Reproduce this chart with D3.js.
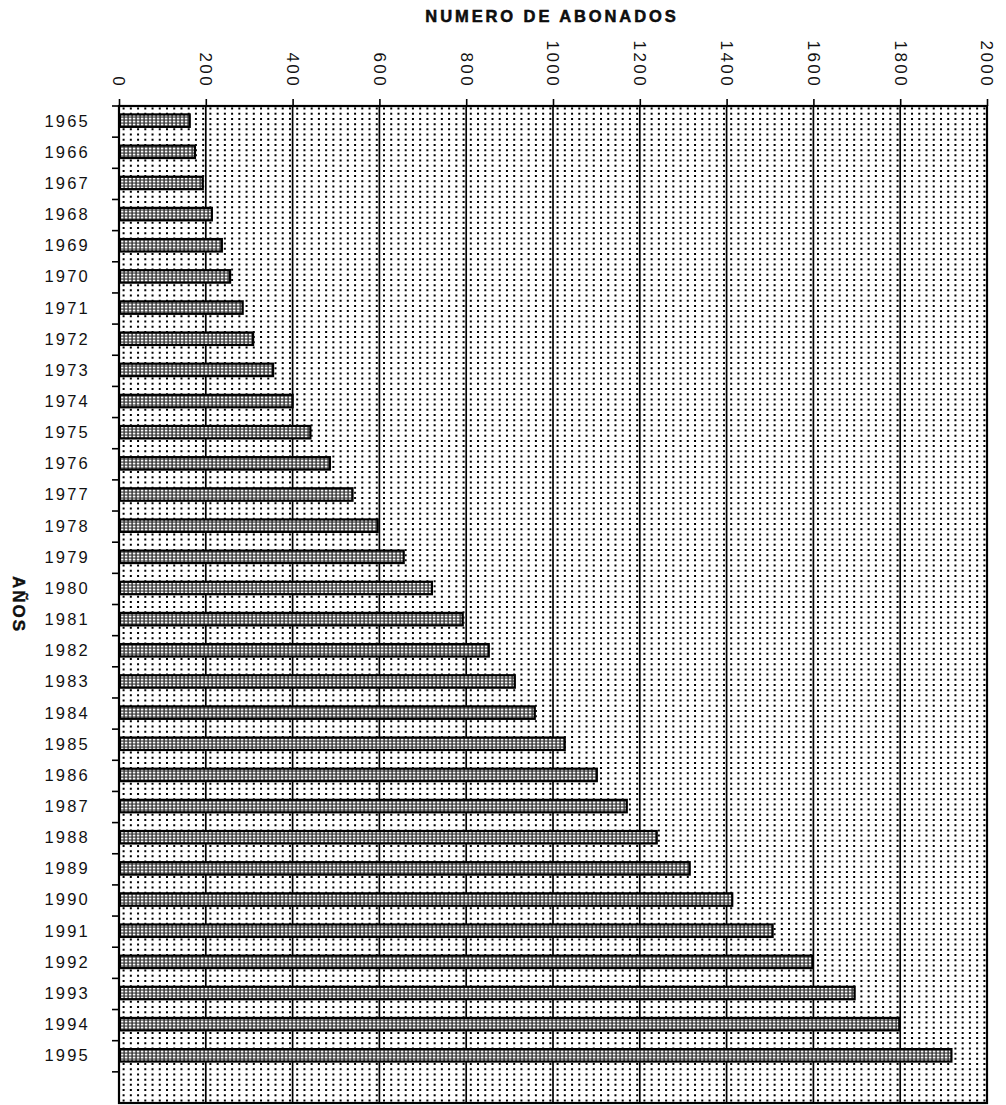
<!DOCTYPE html>
<html>
<head>
<meta charset="utf-8">
<script src="https://cdn.jsdelivr.net/npm/d3@7"></script>
<style>
  html, body { margin: 0; padding: 0; background: #fff; }
  svg { display: block; }
  text { font-family: "Liberation Sans", Arial, sans-serif; fill: #111; }
</style>
</head>
<body>
<svg id="chart" width="1006" height="1105"></svg>
<script>
// ---- data ----
const years = ["1965","1966","1967","1968","1969","1970","1971","1972","1973","1974",
  "1975","1976","1977","1978","1979","1980","1981","1982","1983","1984",
  "1985","1986","1987","1988","1989","1990","1991","1992","1993","1994","1995"];
const subscribers = [163,175,193,214,237,256,285,309,355,400,
  441,486,538,596,656,721,792,852,912,958,
  1027,1101,1170,1239,1315,1413,1506,1598,1695,1798,1918];
const xTicks = [0,200,400,600,800,1000,1200,1400,1600,1800,2000];
const xTitle = "NUMERO DE ABONADOS";
const yTitle = "AÑOS";

// ---- layout ----
const svg = d3.select("#chart");
const pLeft = 119, pRight = 987, pTop = 106, pBottom = 1103;
const nSlots = years.length + 1;            // one empty slot below the last year
const step = (pBottom - pTop) / nSlots;

const x = d3.scaleLinear().domain([0, 2000]).range([pLeft, pRight]);
const y = d3.scaleBand().domain(years).range([pTop, pTop + step * years.length]).padding(0);

// patterns
const defs = svg.append("defs");
const pat = defs.append("pattern").attr("id", "barPat")
  .attr("patternUnits", "userSpaceOnUse").attr("width", 4).attr("height", 3);
pat.append("rect").attr("width", 4).attr("height", 3).attr("fill", "#333");
pat.append("rect").attr("x", 0.8).attr("y", 0.6).attr("width", 2.6).attr("height", 1.9).attr("fill", "#fafafa");

// ---- dotted background grid ----
const minorStep = x(200 / 12) - x(0);
const rowsPerBand = 6;
const gridG = svg.append("g");
const nRows = nSlots * rowsPerBand;
for (let r = 0; r < nRows; r++) {
  const yy = pTop + (r + 0.5) * step / rowsPerBand;
  gridG.append("line")
    .attr("x1", x(0)).attr("x2", x(2000))
    .attr("y1", yy).attr("y2", yy)
    .attr("stroke", "#000").attr("stroke-width", 2)
    .attr("stroke-dasharray", `2 ${minorStep - 2}`)
    .attr("stroke-dashoffset", minorStep - 3.6);
}

// major vertical gridlines
svg.append("g").selectAll("line")
  .data(xTicks.filter(t => t > 0 && t < 2000))
  .join("line")
  .attr("x1", d => x(d)).attr("x2", d => x(d))
  .attr("y1", pTop).attr("y2", pBottom)
  .attr("stroke", "#000").attr("stroke-width", 1.7);

// ---- bars ----
svg.append("g").selectAll("rect")
  .data(years.map((yr, i) => ({ yr, v: subscribers[i] })))
  .join("rect")
  .attr("x", x(0) + 1)
  .attr("y", d => y(d.yr) + step * 0.27)
  .attr("width", d => x(d.v) - x(0) - 1)
  .attr("height", step * 0.4)
  .attr("fill", "url(#barPat)")
  .attr("stroke", "#000")
  .attr("stroke-width", 2.2);

// ---- frame ----
svg.append("rect")
  .attr("x", pLeft).attr("y", pTop)
  .attr("width", pRight - pLeft).attr("height", pBottom - pTop)
  .attr("fill", "none").attr("stroke", "#000").attr("stroke-width", 2.2);

// ---- top axis (ticks + rotated labels) ----
const topAxis = d3.axisTop(x).tickValues(xTicks).tickSize(7).tickFormat(d3.format("d"));
const ta = svg.append("g").attr("transform", `translate(0,${pTop})`).call(topAxis);
ta.select(".domain").remove();
ta.selectAll(".tick line").attr("stroke", "#000").attr("stroke-width", 1.6);
ta.selectAll(".tick text")
  .attr("transform", "translate(0,-18) rotate(90)")
  .attr("x", 0).attr("y", 0).attr("dy", "0.36em")
  .attr("text-anchor", "end")
  .style("font-size", "17px")
  .style("letter-spacing", "2.4px")
  .style("font-family", "'Liberation Sans', Arial, sans-serif")
  .attr("fill", "#222");

// ---- left axis (band boundary ticks + year labels) ----
const bounds = d3.range(0, nSlots).map(k => pTop + k * step);
svg.append("g").selectAll("line")
  .data(bounds)
  .join("line")
  .attr("x1", pLeft - 7).attr("x2", pLeft)
  .attr("y1", d => d).attr("y2", d => d)
  .attr("stroke", "#000").attr("stroke-width", 1.6);

svg.append("g").selectAll("text")
  .data(years)
  .join("text")
  .attr("x", 90)
  .attr("y", d => y(d) + step * 0.47)
  .attr("dy", "0.36em")
  .attr("text-anchor", "end")
  .style("font-size", "16.5px")
  .style("letter-spacing", "2.2px")
  .attr("fill", "#222")
  .text(d => d);

// ---- titles ----
svg.append("text")
  .attr("x", (pLeft + pRight) / 2 - 1)
  .attr("y", 22)
  .attr("text-anchor", "middle")
  .style("font-size", "16.5px")
  .style("font-weight", "bold")
  .style("letter-spacing", "2.9px")
  .attr("fill", "#000")
  .attr("stroke", "#000").attr("stroke-width", 0.5)
  .text(xTitle);

svg.append("text")
  .attr("transform", `translate(19,${(pTop + pBottom) / 2}) rotate(90)`)
  .attr("text-anchor", "middle")
  .attr("dy", "0.36em")
  .style("font-size", "17px")
  .style("font-weight", "bold")
  .style("letter-spacing", "2px")
  .attr("fill", "#000")
  .attr("stroke", "#000").attr("stroke-width", 0.4)
  .text(yTitle);
</script>
</body>
</html>
